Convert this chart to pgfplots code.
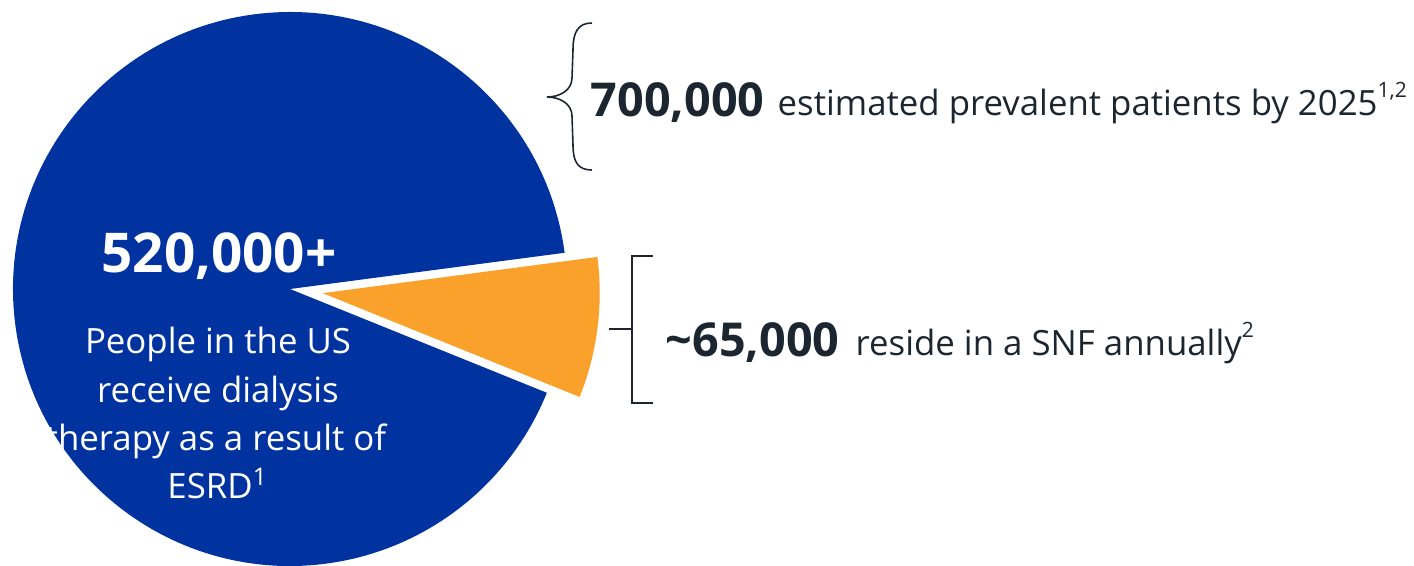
\documentclass[border=0pt]{standalone}
\usepackage{pgfplots}
\pgfplotsset{compat=1.18}
\usepackage{pgfplotstable}
\usepackage{fontspec}
\setmainfont{Open Sans}
\usetikzlibrary{calc}

\definecolor{esrdblue}{HTML}{0033A0}
\definecolor{snforange}{HTML}{F9A12B}
\definecolor{txt}{HTML}{1C2630}

% shares of the pie (percent)
\pgfplotstableread{
slice share
dialysis 91.8
snf 8.2
}\slices

\newcommand{\sups}[1]{\raisebox{0.95ex}{\fontsize{6}{7}\selectfont #1}}

\begin{document}
\begin{tikzpicture}
\begin{axis}[
  width=14.14cm, height=5.65cm, scale only axis,
  xmin=0, xmax=1414, ymin=0, ymax=565, y dir=reverse,
  hide axis, clip=true]
\pgfplotstablegetelem{1}{share}\of\slices
\pgfmathsetmacro{\snf}{\pgfplotsretval}
\pgfmathsetmacro{\sa}{-22}
\pgfmathsetmacro{\ea}{\sa+3.6*\snf}
\pgfmathsetmacro{\ma}{(\sa+\ea)/2}
\pgfmathsetmacro{\ba}{\sa+360}
% big slice
\fill[esrdblue] (axis cs:290,289) -- ++(\ea:2.77cm)
  arc[start angle=\ea, end angle=\ba, radius=2.77cm] -- cycle;
% exploded slice
\fill[snforange] ($(axis cs:290,289)+(\ma:0.33cm)$) -- ++(\sa:2.77cm)
  arc[start angle=\sa, end angle=\ea, radius=2.77cm] -- cycle;

% text in the pie
\node[anchor=base, text=white, font=\fontsize{15.6}{18}\selectfont\bfseries]
  at (axis cs:219,272) {520,000+};
\node[anchor=base, text=white, font=\fontsize{9.9}{12}\selectfont]
  at (axis cs:218,353) {People in the US};
\node[anchor=base, text=white, font=\fontsize{9.9}{12}\selectfont]
  at (axis cs:218,402) {receive dialysis};
\node[anchor=base, text=white, font=\fontsize{9.9}{12}\selectfont]
  at (axis cs:216,450) {therapy as a result of};
\node[anchor=base, text=white, font=\fontsize{9.9}{12}\selectfont]
  at (axis cs:218,498) {ESRD\textsuperscript{1}};

% brace and upper note
\draw[txt, line width=0.45pt] (axis cs:592,23)
  .. controls (axis cs:578,23) and (axis cs:573,32) .. (axis cs:573,50)
  -- (axis cs:572,78)
  .. controls (axis cs:572,90) and (axis cs:560,97) .. (axis cs:547,97)
  .. controls (axis cs:560,97) and (axis cs:572,104) .. (axis cs:572,116)
  -- (axis cs:573,145)
  .. controls (axis cs:573,162) and (axis cs:578,170) .. (axis cs:592,170);
\node[anchor=base west, inner sep=0pt, text=txt, font=\fontsize{13.3}{16}\selectfont\bfseries]
  at (axis cs:590,116) {700,000};
\node[anchor=base west, inner sep=0pt, text=txt, font=\fontsize{9.9}{12}\selectfont]
  at (axis cs:777,115) {estimated prevalent patients by 2025\sups{1,2}};

% bracket and lower note
\draw[txt, line width=0.6pt] (axis cs:653,256) -- (axis cs:632,256)
  -- (axis cs:632,403) -- (axis cs:653,403);
\draw[txt, line width=0.6pt] (axis cs:609,329) -- (axis cs:632,329);
\node[anchor=base west, inner sep=0pt, text=txt, font=\fontsize{13.3}{16}\selectfont\bfseries]
  at (axis cs:665,356) {\char`\~65,000};
\node[anchor=base west, inner sep=0pt, text=txt, font=\fontsize{9.9}{12}\selectfont]
  at (axis cs:855,355) {reside in a SNF annually\sups{2}};
\end{axis}
\pgfresetboundingbox
\useasboundingbox (current axis.south west) rectangle (current axis.north east);
\end{tikzpicture}
\end{document}
